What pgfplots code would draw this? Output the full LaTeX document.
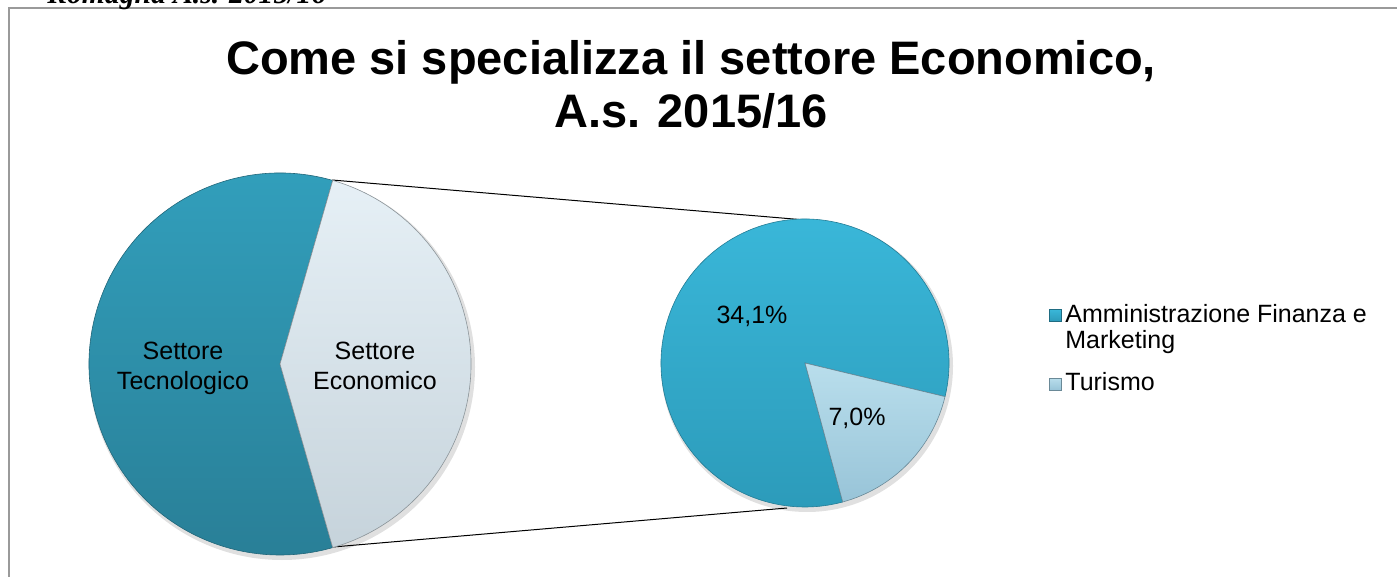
\documentclass[border=0pt]{standalone}
\usepackage{pgfplots}
\pgfplotsset{compat=1.18}
\usepackage{fontspec}
\setmainfont{Liberation Sans}
\newfontfamily\capfont{Liberation Serif}
\definecolor{tecTop}{HTML}{32A0BD}
\definecolor{tecBot}{HTML}{297F97}
\definecolor{ecoTop}{HTML}{E6F0F6}
\definecolor{ecoBot}{HTML}{C6D3DB}
\definecolor{afmTop}{HTML}{3AB8DA}
\definecolor{afmBot}{HTML}{2C9BBA}
\definecolor{turTop}{HTML}{B9DEEC}
\definecolor{turBot}{HTML}{98C4D8}
\definecolor{framegray}{HTML}{9A9A9A}

% shares (percent of all students)
\def\tecno{58.9}
\def\econ{41.1}
\def\afm{34.1}
\def\tur{7.0}

\begin{document}
\begin{tikzpicture}
\pgfmathsetmacro{\aE}{\econ*3.6/2}
\pgfmathsetmacro{\tS}{-13.5}
\pgfmathsetmacro{\tE}{\tS-\tur/(\afm+\tur)*360}
\pgfmathsetmacro{\aEnd}{\tE+360}
\begin{axis}[
  x=0.5pt, y=0.5pt,
  xmin=0, xmax=1397, ymin=0, ymax=577,
  y dir=reverse,
  hide axis,
  clip=true,
]
% frame
\addplot[framegray, line width=1pt] coordinates {(9,577) (9,8) (1397,8)};
% connector lines
\addplot[black, line width=0.5pt] coordinates {(332,180) (817,221)};
\addplot[black, line width=0.5pt] coordinates {(333,547) (787,508)};

% soft shadows
\fill[black, opacity=0.12] (axis cs:282,367) circle[radius=96.5pt];
\fill[black, opacity=0.12] (axis cs:807,366) circle[radius=73pt];

% left pie
\shade[top color=tecTop, bottom color=tecBot, draw=tecBot!80!black, line width=0.3pt]
  (axis cs:280,364) -- ++(\aE:95.5pt) arc[start angle=\aE, end angle=360-\aE, radius=95.5pt] -- cycle;
\shade[top color=ecoTop, bottom color=ecoBot, draw=ecoBot!70!black, line width=0.3pt]
  (axis cs:280,364) -- ++(-\aE:95.5pt) arc[start angle=-\aE, end angle=\aE, radius=95.5pt] -- cycle;

% right pie
\shade[top color=afmTop, bottom color=afmBot, draw=afmBot!80!black, line width=0.3pt]
  (axis cs:805,363) -- ++(\tS:72pt) arc[start angle=\tS, end angle=\aEnd, radius=72pt] -- cycle;
\shade[top color=turTop, bottom color=turBot, draw=turBot!70!black, line width=0.3pt]
  (axis cs:805,363) -- ++(\tE:72pt) arc[start angle=\tE, end angle=\tS, radius=72pt] -- cycle;

% labels
\node[anchor=base, font=\fontsize{12.5}{15}\selectfont] at (axis cs:183,359) {Settore};
\node[anchor=base, font=\fontsize{12.5}{15}\selectfont] at (axis cs:183,389) {Tecnologico};
\node[anchor=base, font=\fontsize{12.5}{15}\selectfont] at (axis cs:375,359) {Settore};
\node[anchor=base, font=\fontsize{12.5}{15}\selectfont] at (axis cs:375,389) {Economico};
\node[anchor=base, font=\fontsize{12.5}{15}\selectfont] at (axis cs:752,323) {34,1\%};
\node[anchor=base, font=\fontsize{12.5}{15}\selectfont] at (axis cs:857,425) {7,0\%};

% legend
\shade[top color=afmTop, bottom color=afmBot, draw=afmBot!70!black, line width=0.3pt]
  (axis cs:1049,309) rectangle (axis cs:1061,321);
\shade[top color=turTop, bottom color=turBot, draw=turBot!70!black, line width=0.3pt]
  (axis cs:1049,378) rectangle (axis cs:1061,390);
\node[anchor=base west, inner sep=0pt, font=\fontsize{12.5}{15}\selectfont] at (axis cs:1065,322) {Amministrazione Finanza e};
\node[anchor=base west, inner sep=0pt, font=\fontsize{12.5}{15}\selectfont] at (axis cs:1065,348) {Marketing};
\node[anchor=base west, inner sep=0pt, font=\fontsize{12.5}{15}\selectfont] at (axis cs:1065,390) {Turismo};

% title
\node[anchor=base, font=\fontsize{23.5}{28}\selectfont\bfseries] at (axis cs:691,75) {Come si specializza il settore Economico,};
\node[anchor=base, font=\fontsize{23.5}{28}\selectfont\bfseries] at (axis cs:691,128) {A.s. 2015/16};

% caption line cut off above the frame
\node[anchor=base west, inner sep=0pt, font=\capfont\fontsize{14.8}{17}\selectfont\bfseries\itshape] at (axis cs:47,4) {Romagna A.s. 2015/16};
\end{axis}
\pgfresetboundingbox
\path[use as bounding box] (current axis.south west) rectangle (current axis.north east);
\end{tikzpicture}
\end{document}
